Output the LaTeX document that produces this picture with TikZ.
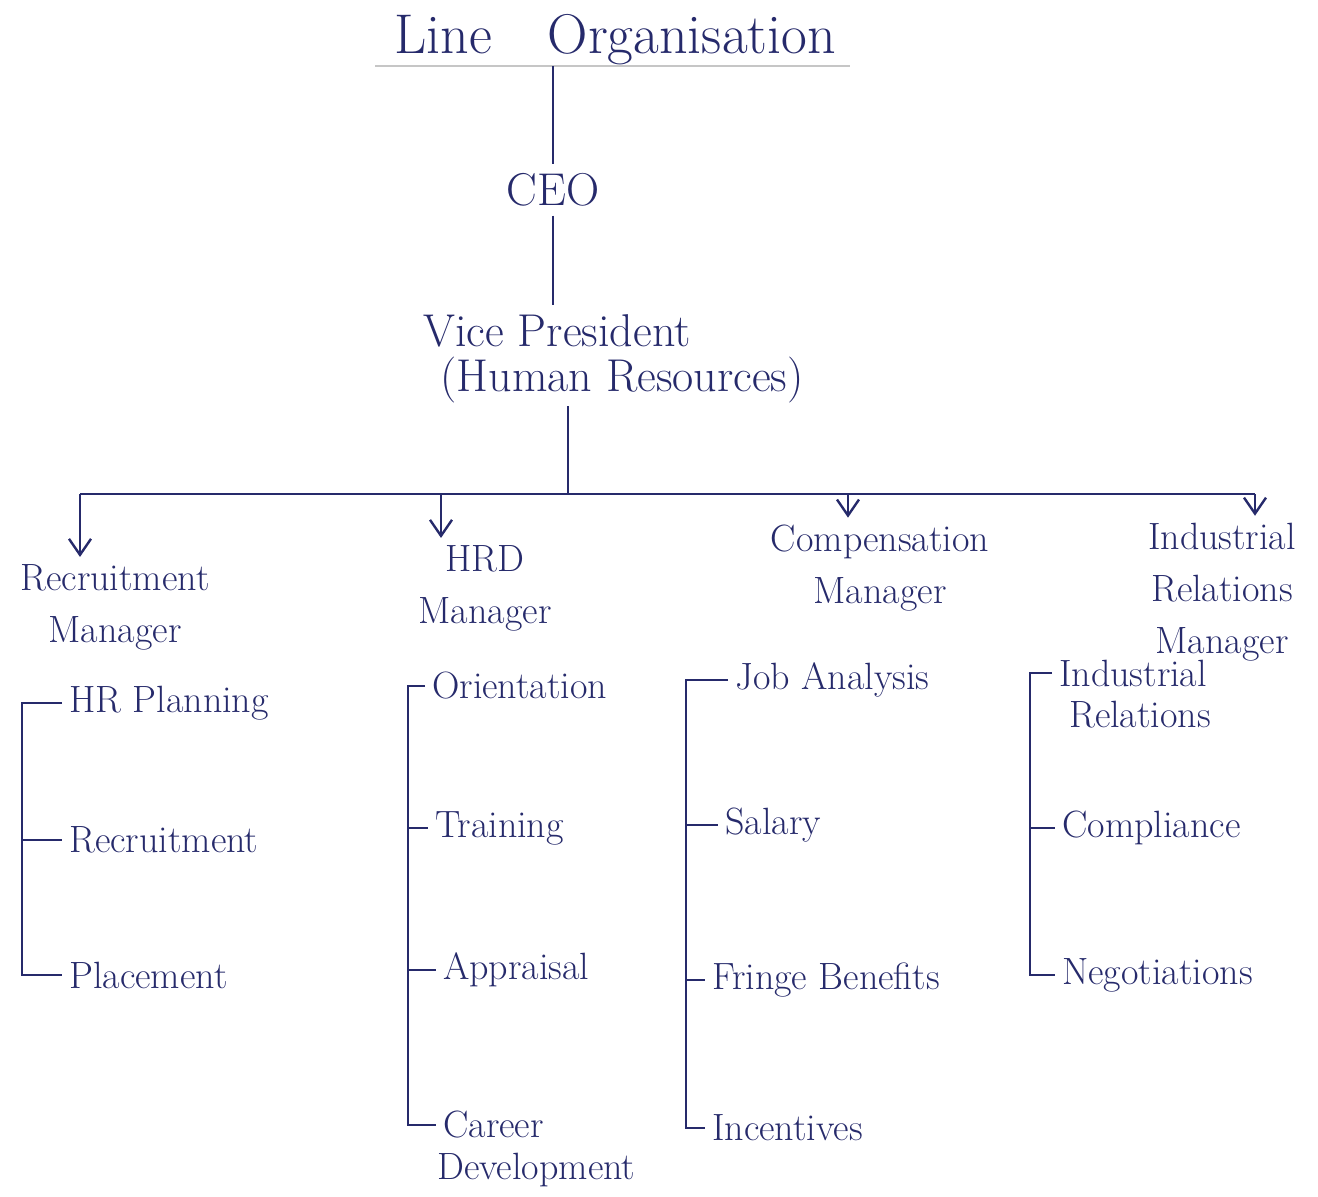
\documentclass[tikz,border=0pt]{standalone}
\usetikzlibrary{arrows.meta}
\definecolor{ink}{HTML}{262A6B}

\begin{document}
\begin{tikzpicture}[x=0.5pt,y=-0.5pt,>={Straight Barb[length=8pt,width=11pt]},
    line width=1.2pt,color=ink,
    every node/.style={font=\fontsize{19}{26}\selectfont,inner sep=3pt},
    heading/.style={font=\fontsize{28}{34}\selectfont},
    chief/.style={font=\fontsize{23}{28}\selectfont,inner sep=1pt},
    item/.style={anchor=west},
    manager/.style={align=center}]
  \useasboundingbox (0,0) rectangle (1318,1196);

  % top of the line
  \node[heading] (title) at (615,40) {Line\quad Organisation};
  \coordinate (ul) at (375,66);
  \coordinate (ur) at (850,66);
  \node[chief] (ceo) at (553,190) {CEO};
  \node[chief] (vp) at (557,331) {Vice President};
  \node[chief] (hr) at (622,380) {(Human Resources)};

  \draw[gray!45,line width=0.8pt] (ul) -- (ur);
  \draw (ceo.north |- ul) -- ([yshift=3pt]ceo.north);
  \draw ([yshift=-3pt]ceo.south) -- ([yshift=3pt]vp.north -| ceo.south);

  % branches
  \coordinate (hub) at (568,494);
  \coordinate (a1) at (80,494);
  \coordinate (a2) at (441,494);
  \coordinate (a3) at (848,494);
  \coordinate (a4) at (1255,494);
  \draw (hr.south -| hub) -- (hub);
  \draw (a1) -- (a4);

  \node[manager] (rm)   at (115,607)  {Recruitment\\Manager};
  \node[manager] (hrd)  at (485,588)  {HRD\\Manager};
  \node[manager] (comp) at (880,568)  {Compensation\\Manager};
  \node[manager] (irm)  at (1222,592) {Industrial\\Relations\\Manager};

  \draw[->] (a1) -- (a1 |- rm.north);
  \draw[->] (a2) -- (a2 |- hrd.north);
  \draw[->] (a3) -- (a3 |- comp.north);
  \draw[->] (a4) -- (a4 |- irm.north);

  % recruitment
  \coordinate (k1) at (22,0);
  \node[item] (hrp) at (62,703)  {HR Planning};
  \node[item] (rec) at (62,840)  {Recruitment};
  \node[item] (plc) at (62,975)  {Placement};
  \draw (hrp.west) -| (k1 |- plc.west) -- (plc.west);
  \draw (k1 |- rec.west) -- (rec.west);

  % hrd
  \coordinate (k2) at (408,0);
  \node[item] (ori) at (425,686)  {Orientation};
  \node[item] (trn) at (428,828)  {Training};
  \node[item] (apr) at (436,970)  {Appraisal};
  \node[item] (car) at (436,1125) {Career};
  \node[item] (dev) at (430,1170) {Development};
  \draw (ori.west) -| (k2 |- car.west) -- (car.west);
  \draw (k2 |- trn.west) -- (trn.west);
  \draw (k2 |- apr.west) -- (apr.west);

  % compensation
  \coordinate (k3) at (686,0);
  \node[item] (job) at (728,680)  {Job Analysis};
  \node[item] (sal) at (718,825)  {Salary};
  \node[item] (frb) at (705,980)  {Fringe Benefits};
  \node[item] (inc) at (705,1128) {Incentives};
  \draw (job.west) -| (k3 |- inc.west) -- (inc.west);
  \draw (k3 |- sal.west) -- (sal.west);
  \draw (k3 |- frb.west) -- (frb.west);

  % industrial relations
  \coordinate (k4) at (1030,0);
  \node[item] (ind) at (1052,673) {Industrial};
  \node[item] (rel) at (1062,715) {Relations};
  \node[item] (cmp) at (1055,828) {Compliance};
  \node[item] (neg) at (1055,975) {Negotiations};
  \draw (ind.west) -| (k4 |- neg.west) -- (neg.west);
  \draw (k4 |- cmp.west) -- (cmp.west);
\end{tikzpicture}
\end{document}
